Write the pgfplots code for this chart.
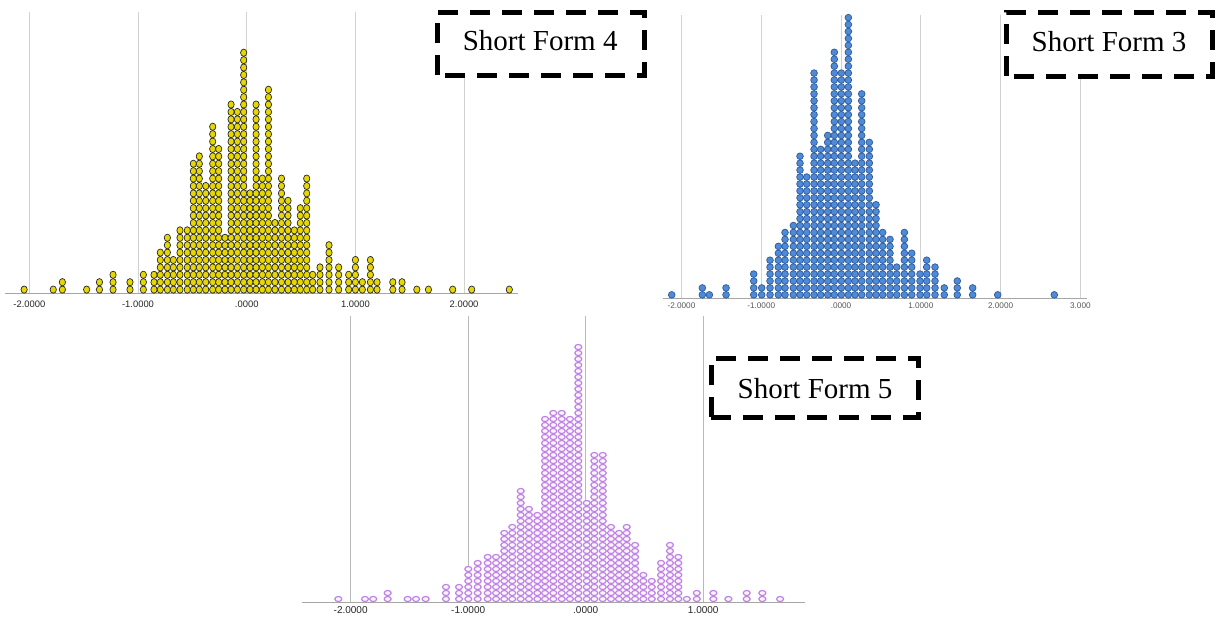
\documentclass[border=0pt]{standalone}
\usepackage{pgfplots}
\pgfplotsset{compat=1.18}
\usepackage{fontspec}
\setmainfont{Liberation Serif}
\setsansfont{Liberation Sans}
\definecolor{yfill}{HTML}{E6D700}
\definecolor{bfill}{HTML}{4F8AD8}
\definecolor{bdraw}{HTML}{2E5A96}
\definecolor{pdraw}{HTML}{BF82E4}
\newcommand\buildlist[2]{\gdef#1{}\foreach \xx/\nn in {#2}{\foreach \kk in {1,...,\nn}{\xdef#1{#1 (\xx,\kk)}}}}
\pgfplotsset{
  base/.style={scale only axis, anchor=south west, axis x line=bottom, axis y line=none,
    axis line style={-,draw=gray!70,line width=0.5pt}, xmajorgrids,
    grid style={gray!35,line width=0.5pt}, major tick length=0pt, ytick=\empty, clip=false},
  ydots/.style={only marks, mark=*, mark size=1.57pt, mark options={fill=yfill, draw=black!85, line width=0.35pt, yscale=1.16}},
  bdots/.style={only marks, mark=*, mark size=1.68pt, mark options={fill=bfill, draw=bdraw, line width=0.35pt}},
  pdots/.style={only marks, mark=*, mark size=1.28pt, mark options={draw=pdraw, fill=pdraw!8, line width=0.6pt, xscale=1.36}},
}
% yellow: Short Form 4 (x / number of dots)
\buildlist\ylist{-2.048/1, -1.78/1, -1.696/2, -1.473/1, -1.355/2, -1.23/3, -1.074/2, -0.951/3, -0.853/3, -0.795/6, -0.730/8, -0.675/5, -0.614/9, -0.547/9, -0.491/18, -0.436/19, -0.377/15, -0.313/23, -0.258/20, -0.2/8, -0.144/26, -0.086/25, -0.028/33, 0.03/14, 0.086/26, 0.144/16, 0.2/28, 0.26/10, 0.32/16, 0.38/13, 0.438/9, 0.493/12, 0.552/16, 0.607/3, 0.674/4, 0.757/7, 0.846/4, 0.938/3, 1.0/5, 1.064/2, 1.138/5, 1.199/2, 1.344/2, 1.429/2, 1.565/1, 1.672/1, 1.895/1, 2.07/1, 2.416/1}
% blue: Short Form 3
\buildlist\blist{-2.122/1, -1.738/2, -1.650/1, -1.441/2, -1.094/4, -0.994/2, -0.890/6, -0.785/8, -0.702/10, -0.597/11, -0.514/21, -0.430/18, -0.338/33, -0.255/22, -0.167/24, -0.084/36, 0.004/33, 0.092/41, 0.175/20, 0.259/30, 0.355/23, 0.439/14, 0.522/10, 0.614/9, 0.698/5, 0.794/10, 0.886/7, 0.990/4, 1.074/6, 1.178/5, 1.294/2, 1.457/3, 1.650/2, 1.964/1, 2.673/1}
% purple: Short Form 5
\buildlist\plist{-2.105/1, -1.878/1, -1.808/1, -1.685/2, -1.515/1, -1.444/1, -1.362/1, -1.189/3, -1.078/3, -0.999/6, -0.919/7, -0.834/8, -0.763/8, -0.693/12, -0.625/13, -0.553/19, -0.483/16, -0.412/15, -0.346/31, -0.276/32, -0.204/32, -0.134/31, -0.063/43, 0.009/17, 0.073/25, 0.145/25, 0.215/13, 0.283/12, 0.349/13, 0.42/10, 0.49/5, 0.562/4, 0.641/7, 0.717/10, 0.788/8, 0.86/1, 0.945/2, 1.086/2, 1.214/1, 1.370/2, 1.503/2, 1.654/1}
\begin{document}
\begin{tikzpicture}
% ---- yellow
\begin{axis}[base, at={(2.5pt,162.35pt)}, width=256.5pt, height=140.65pt,
  xmin=-2.224, xmax=2.496, ymin=0.5, ymax=38.5,
  xtick={-2,-1,0,1,2}, xticklabels={-2.0000,-1.0000,.0000,1.0000,2.0000},
  xticklabel style={font=\sffamily\fontsize{4.7}{5}\selectfont, text=black!85, anchor=center, yshift=-5.35pt}]
\edef\tmp{\noexpand\addplot[ydots] coordinates {\ylist};}\tmp
\end{axis}
% ---- blue
\begin{axis}[base, at={(331.5pt,159.85pt)}, width=212pt, height=141.65pt,
  xmin=-2.231, xmax=3.083, ymin=0.5, ymax=41.38,
  xtick={-2,-1,0,1,2,3}, xticklabels={-2.0000,-1.0000,.0000,1.0000,2.0000,3.000},
  xticklabel style={font=\sffamily\fontsize{4.1}{5}\selectfont, text=black!65, anchor=center, yshift=-3.7pt}]
\edef\tmp{\noexpand\addplot[bdots] coordinates {\blist};}\tmp
\end{axis}
% ---- purple
\begin{axis}[base, at={(151pt,8pt)}, width=251.5pt, height=143pt,
  xmin=-2.414, xmax=1.866, ymin=0.5, ymax=48.17, grid style={gray!55,line width=0.5pt},
  xtick={-2,-1,0,1}, xticklabels={-2.0000,-1.0000,.0000,1.0000},
  xticklabel style={font=\sffamily\fontsize{5}{6}\selectfont, text=black!85, anchor=center, yshift=-4pt}]
\edef\tmp{\noexpand\addplot[pdots] coordinates {\plist};}\tmp
\end{axis}
% ---- label boxes
\draw[line width=2.5pt, dash pattern=on 10pt off 6pt, fill=white] (218.5pt,271.5pt) rectangle (322pt,303pt);
\node[font=\fontsize{14.5}{16}\selectfont] at (270.1pt,288.5pt) {Short Form 4};
\draw[line width=2.5pt, dash pattern=on 10pt off 6pt, fill=white] (503pt,271pt) rectangle (606pt,303pt);
\node[font=\fontsize{14.5}{16}\selectfont] at (554.5pt,288pt) {Short Form 3};
\draw[line width=2.5pt, dash pattern=on 10pt off 6pt, fill=white] (355.5pt,100.5pt) rectangle (459pt,130pt);
\node[font=\fontsize{14.5}{16}\selectfont] at (407.5pt,114.5pt) {Short Form 5};
\pgfresetboundingbox
\useasboundingbox (0,0) rectangle (609pt,309pt);
\end{tikzpicture}
\end{document}
